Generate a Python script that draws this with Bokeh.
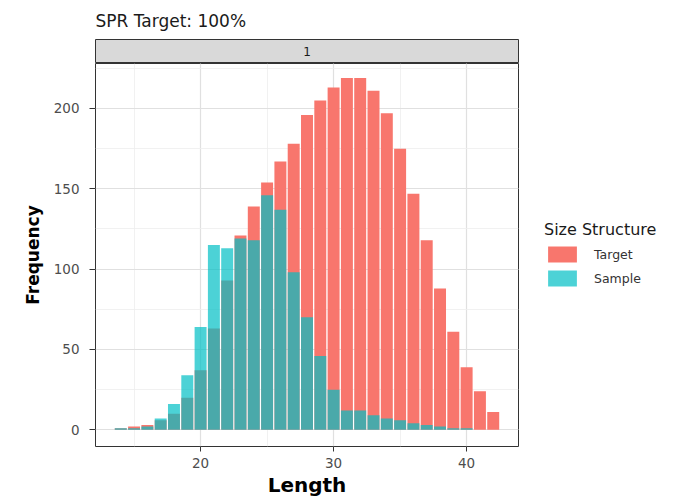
from bokeh.plotting import figure
from bokeh.models import (Range1d, SingleIntervalTicker, Legend, LegendItem, ColumnDataSource)
from bokeh.layouts import column, row
from bokeh.embed import file_html
from bokeh.resources import INLINE
from bokeh.core.properties import value

# ---- data ----
lengths = [14, 15, 16, 17, 18, 19, 20, 21, 22, 23, 24, 25, 26, 27, 28,
           29, 30, 31, 32, 33, 34, 35, 36, 37, 38, 39, 40, 41, 42]
target = [1, 2, 3, 6, 10, 20, 37, 63, 93, 121, 139, 154, 167, 178, 196,
          205, 213, 219, 219, 211, 197, 175, 147, 118, 88, 61, 39, 24, 11]
sample = [1, 1, 2, 7, 16, 34, 64, 115, 113, 119, 118, 146, 137, 98, 70,
          46, 25, 12, 12, 9, 7, 6, 4, 3, 2, 1, 1, 0, 0]
series_names = ["Target", "Sample"]
series_colors = ["#F8766D", "#00BFC4"]
series_alpha = [1.0, 0.7]
facet_labels = ["1"]
plot_title = "SPR Target: 100%"
legend_title = "Size Structure"
x_label = "Length"
y_label = "Frequency"

LW = 519          # width of the panel column
RW = 689 - LW     # width of the legend column
xr = Range1d(12.1, 43.9)

# ---- strip (facet header) ----
sp = figure(width=LW, height=63, x_range=xr, y_range=Range1d(0, 1),
            toolbar_location=None, output_backend="svg",
            min_border_left=95, min_border_right=1,
            min_border_top=37, min_border_bottom=0)
sp.xaxis.visible = False
sp.yaxis.visible = False
sp.grid.visible = False
sp.background_fill_color = "#D9D9D9"
sp.outline_line_color = "#333333"
sp.outline_line_width = 1
sp.title.text = plot_title
sp.title.text_font = "DejaVu Sans"
sp.title.text_font_size = "17px"
sp.title.text_font_style = "normal"
sp.title.text_color = "#1A1A1A"
sp.title.align = "left"
sp.title.standoff = 17
sp.border_fill_color = "white"
mid = (xr.start + xr.end) / 2
sp.text(x=[mid], y=[0.5], text=facet_labels, text_align="center",
        text_baseline="middle", text_font=value("DejaVu Sans"),
        text_font_size="12px", text_color="#1A1A1A")

# ---- main panel ----
p = figure(width=LW, height=436, x_range=xr, y_range=Range1d(-10.4, 228),
           toolbar_location=None, output_backend="svg",
           min_border_left=95, min_border_right=1,
           min_border_top=0, min_border_bottom=51)
p.background_fill_color = "white"
p.border_fill_color = "white"
p.outline_line_color = "#333333"
p.outline_line_width = 1

src = ColumnDataSource(dict(x=lengths, target=target, sample=sample))
r1 = p.vbar(x="x", top="target", width=0.9, source=src,
            fill_color=series_colors[0], fill_alpha=series_alpha[0], line_color=None)
r2 = p.vbar(x="x", top="sample", width=0.9, source=src,
            fill_color=series_colors[1], fill_alpha=series_alpha[1], line_color=None)

p.xaxis.ticker = SingleIntervalTicker(interval=10, num_minor_ticks=2)
p.yaxis.ticker = SingleIntervalTicker(interval=50, num_minor_ticks=2)
for ax in (p.xaxis[0], p.yaxis[0]):
    ax.axis_line_color = None
    ax.major_tick_line_color = "#333333"
    ax.major_tick_in = 0
    ax.minor_tick_line_color = None
    ax.major_label_text_font = "DejaVu Sans"
    ax.major_label_text_font_size = "13.5px"
    ax.major_label_text_color = "#4D4D4D"
    ax.axis_label_text_font = "DejaVu Sans"
    ax.axis_label_text_font_style = "bold"
    ax.axis_label_text_color = "#000000"
p.xaxis.major_tick_out = 5
p.yaxis.major_tick_out = 6
p.xaxis.major_label_standoff = 6
p.yaxis.major_label_standoff = 10
p.xaxis.axis_label = x_label
p.yaxis.axis_label = y_label
p.xaxis.axis_label_text_font_size = "20px"
p.yaxis.axis_label_text_font_size = "17px"
p.xaxis.axis_label_standoff = 2
p.yaxis.axis_label_standoff = 8

for g in (p.xgrid[0], p.ygrid[0]):
    g.grid_line_color = "#E0E0E0"
    g.grid_line_width = 1.2
    g.minor_grid_line_color = "#EEEEEE"
    g.minor_grid_line_width = 0.8

# ---- legend column: proxy renderers share the data but fall outside the view ----
lf = figure(width=RW, height=499, x_range=Range1d(0, 1), y_range=Range1d(0, 1),
            toolbar_location=None, output_backend="svg",
            min_border_left=0, min_border_right=0,
            min_border_top=0, min_border_bottom=0)
lf.xaxis.visible = False
lf.yaxis.visible = False
lf.grid.visible = False
lf.outline_line_color = None
lf.background_fill_color = "white"
lf.border_fill_color = "white"
k1 = lf.vbar(x="x", top="target", width=0.9, source=src, fill_color=series_colors[0],
             fill_alpha=series_alpha[0], line_color=None)
k2 = lf.vbar(x="x", top="sample", width=0.9, source=src, fill_color=series_colors[1],
             fill_alpha=series_alpha[1], line_color=None)

legend = Legend(items=[LegendItem(label=series_names[0], renderers=[k1]),
                       LegendItem(label=series_names[1], renderers=[k2])],
                title=legend_title, location=(25, 211), orientation="vertical")
legend.title_text_font = "DejaVu Sans"
legend.title_text_font_size = "16px"
legend.title_text_font_style = "normal"
legend.title_text_color = "#1A1A1A"
legend.title_standoff = 5
legend.label_text_font = "DejaVu Sans"
legend.label_text_font_size = "12.5px"
legend.label_text_color = "#333333"
legend.glyph_width = 36
legend.glyph_height = 20
legend.spacing = 4
legend.label_standoff = 14
legend.padding = 4
legend.margin = 0
legend.border_line_color = None
legend.background_fill_alpha = 0
lf.add_layout(legend, "center")

layout = row(column(sp, p, spacing=0), lf, spacing=0)
open("out.html", "w").write(file_html(layout, INLINE))
